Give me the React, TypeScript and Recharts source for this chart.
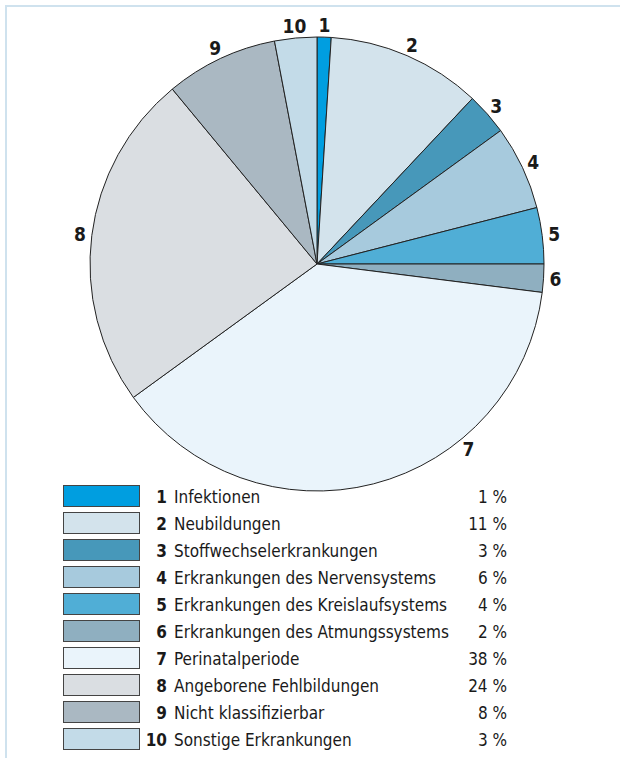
import { PieChart, Pie, Cell, Legend } from 'recharts';

const numbers = ['1', '2', '3', '4', '5', '6', '7', '8', '9', '10'];
const causes = [
  'Infektionen',
  'Neubildungen',
  'Stoffwechselerkrankungen',
  'Erkrankungen des Nervensystems',
  'Erkrankungen des Kreislaufsystems',
  'Erkrankungen des Atmungssystems',
  'Perinatalperiode',
  'Angeborene Fehlbildungen',
  'Nicht klassifizierbar',
  'Sonstige Erkrankungen',
];
const shares = [1, 11, 3, 6, 4, 2, 38, 24, 8, 3];
const colors = [
  '#009ee0', '#d3e3ec', '#4798ba', '#a7cadd', '#50aed6',
  '#8fafc0', '#eaf4fb', '#dadee2', '#aab8c2', '#c3dbe8',
];

const data = numbers.map((n, i) => ({ n, name: causes[i], value: shares[i] }));

const FONT = "'DejaVu Sans Condensed', 'Liberation Sans Narrow', sans-serif";
const RAD = Math.PI / 180;

const renderLabel = (p: any) => {
  // label 7 sits further round towards the lower right in the original
  const angle = p.payload.n === '7' ? -50.7 : p.midAngle;
  const r = p.outerRadius + 12;
  const x = p.cx + r * Math.cos(-angle * RAD);
  const y = p.cy + r * Math.sin(-angle * RAD);
  return (
    <text x={x} y={y} textAnchor="middle" dominantBaseline="central"
      fontFamily={FONT} fontWeight="bold" fontSize={19} fill="#1a1a1a">
      {p.payload.n}
    </text>
  );
};

const LegendBox = () => (
  <div style={{ fontFamily: FONT, fontSize: 17, color: '#1a1a1a' }}>
    {data.map((d, i) => (
      <div key={d.n} style={{ position: 'absolute', left: 0, top: i * 27, height: 22, width: 620 }}>
        <div style={{
          position: 'absolute', left: 63, top: 0, width: 75, height: 20,
          background: colors[i], border: '1px solid #444',
        }} />
        <span style={{ position: 'absolute', right: 620 - 167, top: 1, lineHeight: '22px', fontWeight: 'bold' }}>{d.n}</span>
        <span style={{ position: 'absolute', left: 174, top: 1, lineHeight: '22px' }}>{d.name}</span>
        <span style={{ position: 'absolute', right: 620 - 507, top: 1, lineHeight: '22px' }}>{d.value} %</span>
      </div>
    ))}
  </div>
);

export default function App() {
  return (
    <div style={{ position: 'absolute', left: 0, top: 0, width: 620, height: 758, background: '#fff', overflow: 'hidden' }}>
      <div style={{ position: 'absolute', left: 5, top: 5, right: 0, height: 2, background: '#cfe2ee' }} />
      <div style={{ position: 'absolute', left: 5, top: 5, bottom: 0, width: 2, background: '#cfe2ee' }} />
      <PieChart width={620} height={758} margin={{ top: 0, right: 0, bottom: 0, left: 0 }}
        style={{ position: 'absolute', left: 0, top: 0 }}>
        <Pie
          data={data}
          dataKey="value"
          cx={317}
          cy={264}
          outerRadius={227}
          startAngle={90}
          endAngle={-270}
          stroke="#222"
          strokeWidth={1}
          label={renderLabel}
          labelLine={false}
          isAnimationActive={false}
        >
          {data.map((d, i) => (
            <Cell key={d.n} fill={colors[i]} />
          ))}
        </Pie>
        <Legend content={<LegendBox />} wrapperStyle={{ position: 'absolute', left: 0, top: 485, width: 620, height: 270 }} />
      </PieChart>
    </div>
  );
}
